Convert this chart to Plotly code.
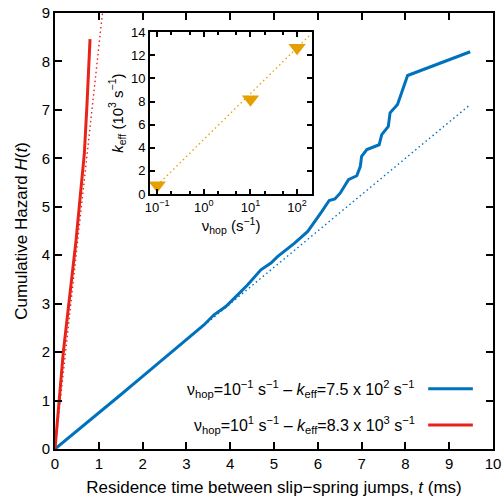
import plotly.graph_objects as go
import numpy as np

# ---- data ----
blue_t = [0, 0.5, 1.0, 1.5, 2.0, 2.5, 3.10, 3.40, 3.63, 3.90, 4.09, 4.40, 4.70, 4.93, 5.08,
          5.47, 5.77, 6.00, 6.09, 6.26, 6.39, 6.51, 6.58, 6.70, 6.89, 6.97, 7.00,
          7.12, 7.40, 7.46, 7.61, 7.65, 7.82, 8.05, 9.48]
blue_H = [0, 0.37, 0.74, 1.12, 1.50, 1.88, 2.32, 2.56, 2.77, 2.94, 3.11, 3.39, 3.70, 3.84, 3.97,
          4.25, 4.49, 4.77, 4.90, 5.13, 5.16, 5.28, 5.39, 5.56, 5.64, 5.83, 6.04,
          6.18, 6.28, 6.49, 6.66, 6.94, 7.11, 7.71, 8.20]
red_t = [0, 0.04, 0.19, 0.48, 0.58, 0.67, 0.73, 0.80]
red_H = [0, 0.42, 2.00, 4.30, 5.20, 6.10, 7.10, 8.46]

k_blue = 0.75   # 10^3 s^-1 -> per ms
k_red = 8.3
blue_fit_t = [0, 9.45]
red_fit_t = [0, 1.12]

nu_hop = [0.1, 10, 100]
k_eff = [0.75, 8.2, 12.65]
nu_fit = [0.1, 200]
k_fit = [0.75, 13.85]

main_xticks = list(range(0, 11))
main_yticks = list(range(0, 10))
inset_xticks = [0.1, 1, 10, 100]
inset_xticktext = ["10<sup>−1</sup>", "10<sup>0</sup>", "10<sup>1</sup>", "10<sup>2</sup>"]
inset_yticks = list(range(0, 15, 2))

legend_labels = [
    "ν<sub>hop</sub>=10<sup>−1</sup> s<sup>−1</sup> – <i>k</i><sub>eff</sub>=7.5 x 10<sup>2</sup> s<sup>−1</sup>",
    "ν<sub>hop</sub>=10<sup>1</sup> s<sup>−1</sup> – <i>k</i><sub>eff</sub>=8.3 x 10<sup>3</sup> s<sup>−1</sup>",
]

BLUE = "#0072BD"
RED = "#E8231A"
ORANGE = "#E69F00"
FONT = "Liberation Sans, Arial, sans-serif"

fig = go.Figure()

# fits (dotted)
fig.add_trace(go.Scatter(x=blue_fit_t, y=[k_blue * t for t in blue_fit_t], mode="lines",
                         line=dict(color=BLUE, width=1.4, dash="1.5px,3px"), showlegend=False))
fig.add_trace(go.Scatter(x=red_fit_t, y=[k_red * t for t in red_fit_t], mode="lines",
                         line=dict(color=RED, width=1.4, dash="1.5px,3px"), showlegend=False))
# data
fig.add_trace(go.Scatter(x=blue_t, y=blue_H, mode="lines",
                         line=dict(color=BLUE, width=3), showlegend=False))
fig.add_trace(go.Scatter(x=red_t, y=red_H, mode="lines",
                         line=dict(color=RED, width=3), showlegend=False))

# inset
fig.add_trace(go.Scatter(x=nu_fit, y=k_fit, mode="lines", xaxis="x2", yaxis="y2",
                         line=dict(color=ORANGE, width=1.3, dash="1.5px,3px"), showlegend=False))
fig.add_trace(go.Scatter(x=nu_hop, y=k_eff, mode="markers", xaxis="x2", yaxis="y2",
                         marker=dict(symbol="triangle-down", size=15, color=ORANGE),
                         showlegend=False))

ax_common = dict(showline=True, linewidth=2, linecolor="black", mirror="ticks",
                 ticks="inside", tickcolor="black", showgrid=False, zeroline=False,
                 automargin=False)

fig.update_layout(
    width=504, height=501,
    margin=dict(l=55, r=11, t=13, b=52),
    paper_bgcolor="white", plot_bgcolor="white",
    font=dict(family=FONT, color="black", size=15),
    xaxis=dict(range=[0, 10], tickvals=main_xticks, ticklen=7, tickwidth=1.5,
               tickfont=dict(size=15),
               title=dict(text="Residence time between slip−spring jumps, <i>t</i> (ms)",
                          font=dict(size=17), standoff=10),
               **ax_common),
    yaxis=dict(range=[0, 9], tickvals=main_yticks, ticklen=7, tickwidth=1.5,
               tickfont=dict(size=15),
               title=dict(text="Cumulative Hazard <i>H</i>(<i>t</i>)",
                          font=dict(size=17), standoff=10),
               **ax_common),
    xaxis2=dict(type="log", range=[np.log10(0.07), np.log10(210)], domain=[0.217, 0.587],
                anchor="y2", tickvals=inset_xticks, ticktext=inset_xticktext,
                ticklen=5, tickwidth=1.5, tickfont=dict(size=13),
                minor=dict(ticks="inside", ticklen=3, tickcolor="black", dtick="D2"),
                title=dict(text="ν<sub>hop</sub> (s<sup>−1</sup>)", font=dict(size=15), standoff=2),
                **ax_common),
    yaxis2=dict(range=[0, 14], domain=[0.585, 0.956], anchor="x2",
                tickvals=inset_yticks, ticklen=5, tickwidth=1.5, tickfont=dict(size=13),
                title=dict(text="<i>k</i><sub>eff</sub> (10<sup>3</sup> s<sup>−1</sup>)",
                           font=dict(size=15), standoff=4),
                **ax_common),
)

# legend drawn as text + line samples
leg_y = [0.138, 0.055]
leg_cols = [BLUE, RED]
for lab, yy, col in zip(legend_labels, leg_y, leg_cols):
    fig.add_annotation(x=0.826, y=yy, xref="paper", yref="paper", text=lab,
                       showarrow=False, xanchor="right", yanchor="middle",
                       font=dict(size=16, family=FONT))
    fig.add_shape(type="line", xref="paper", yref="paper", x0=0.852, x1=0.954,
                  y0=yy, y1=yy, line=dict(color=col, width=3))

fig.write_html("out.html")
